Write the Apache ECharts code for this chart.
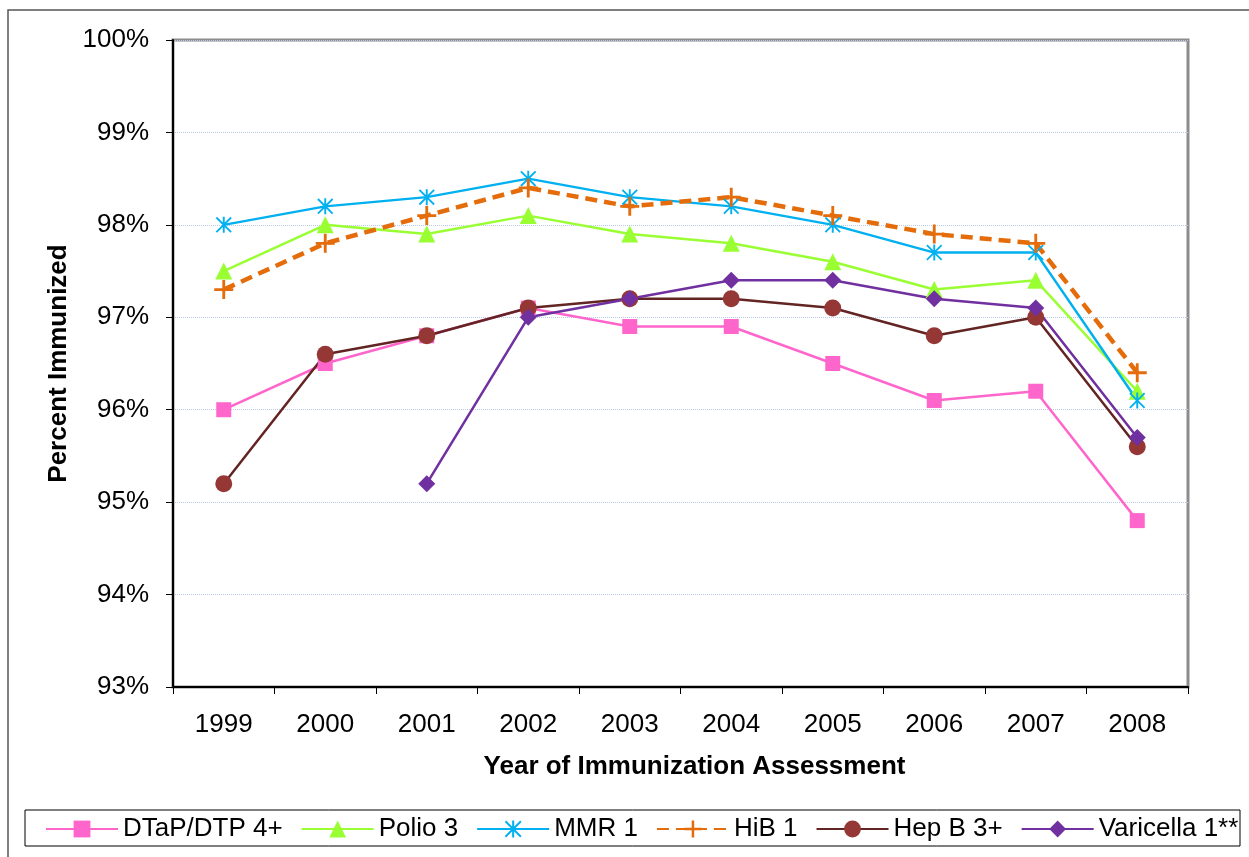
<!DOCTYPE html>
<html>
<head>
<meta charset="utf-8">
<script src="https://cdn.jsdelivr.net/npm/echarts@6/dist/echarts.min.js"></script>
<style>
  html, body { margin: 0; padding: 0; background: #fff; }
  #chart { width: 1249px; height: 857px; }
</style>
</head>
<body>
<div id="chart"></div>
<script>
  const years = ['1999', '2000', '2001', '2002', '2003', '2004', '2005', '2006', '2007', '2008'];
  const dtap = [96.0, 96.5, 96.8, 97.1, 96.9, 96.9, 96.5, 96.1, 96.2, 94.8];
  const polio = [97.5, 98.0, 97.9, 98.1, 97.9, 97.8, 97.6, 97.3, 97.4, 96.2];
  const mmr = [98.0, 98.2, 98.3, 98.5, 98.3, 98.2, 98.0, 97.7, 97.7, 96.1];
  const hib = [97.3, 97.8, 98.1, 98.4, 98.2, 98.3, 98.1, 97.9, 97.8, 96.4];
  const hepB = [95.2, 96.6, 96.8, 97.1, 97.2, 97.2, 97.1, 96.8, 97.0, 95.6];
  const varicella = [null, null, 95.2, 97.0, 97.2, 97.4, 97.4, 97.2, 97.1, 95.7];

  const font = '"Liberation Sans", Arial, sans-serif';

  // asterisk and plus markers as filled paths
  const starPath = 'path://M8.8,0 L11.2,0 L11.2,20 L8.8,20 Z M0,1.6 L1.6,0 L20,18.4 L18.4,20 Z M18.4,0 L20,1.6 L1.6,20 L0,18.4 Z';
  const plusPath = 'path://M8.5,0 L11.5,0 L11.5,8.5 L20,8.5 L20,11.5 L11.5,11.5 L11.5,20 L8.5,20 L8.5,11.5 L0,11.5 L0,8.5 L8.5,8.5 Z';

  function lineSeries(name, data, color, symbol, size, extra) {
    return Object.assign({
      name,
      type: 'line',
      data,
      symbol,
      symbolSize: size,
      connectNulls: false,
      lineStyle: { color, width: 2.5 },
      itemStyle: { color, borderWidth: 0 },
      emphasis: { disabled: true },
    }, extra || {});
  }

  const chart = echarts.init(document.getElementById('chart'));

  chart.setOption({
    animation: false,
    backgroundColor: '#fff',
    textStyle: { fontFamily: font },
    grid: {
      left: 173, right: 61, top: 40, bottom: 170,
      show: true, borderColor: '#8c8c8c', borderWidth: 3, backgroundColor: 'transparent',
    },
    legend: {
      left: 40,
      top: 811,
      itemWidth: 72,
      itemHeight: 21,
      itemGap: 18,
      textStyle: { fontFamily: font, fontSize: 26, color: '#000' },
      data: ['DTaP/DTP 4+', 'Polio 3', 'MMR 1', 'HiB 1', 'Hep B 3+', 'Varicella 1**'],
    },
    xAxis: {
      type: 'category',
      data: years,
      boundaryGap: true,
      name: 'Year of Immunization Assessment',
      nameLocation: 'middle',
      nameGap: 67,
      nameTextStyle: { fontFamily: font, fontSize: 26, fontWeight: 'bold', color: '#000', padding: [0, 0, 0, 28] },
      axisLine: { lineStyle: { color: '#000', width: 2 } },
      axisTick: { show: true, length: 7, lineStyle: { color: '#000', width: 1 } },
      axisLabel: { fontFamily: font, fontSize: 26, color: '#000', margin: 25 },
      splitLine: { show: false },
    },
    yAxis: {
      type: 'value',
      min: 93,
      max: 100,
      interval: 1,
      name: 'Percent Immunized',
      nameLocation: 'middle',
      nameGap: 101,
      nameTextStyle: { fontFamily: font, fontSize: 26, fontWeight: 'bold', color: '#000' },
      axisLine: { show: true, lineStyle: { color: '#000', width: 2 } },
      axisTick: { show: true, length: 7, lineStyle: { color: '#000', width: 1 } },
      axisLabel: { fontFamily: font, fontSize: 26, color: '#000', margin: 24, padding: [6, 0, 0, 0], formatter: '{value}%' },
      splitLine: { show: true, lineStyle: { color: '#b8cbea', width: 1, type: 'dotted' } },
    },
    graphic: [
      { type: 'rect', shape: { x: 8, y: 10, width: 1400, height: 1000 }, style: { fill: 'none', stroke: '#555', lineWidth: 1.5 }, silent: true, z: -1 },
      { type: 'rect', shape: { x: 25, y: 810, width: 1215, height: 36 }, style: { fill: 'none', stroke: '#000', lineWidth: 1 }, silent: true },
    ],
    series: [
      lineSeries('DTaP/DTP 4+', dtap, '#ff66cc', 'rect', 15),
      lineSeries('Polio 3', polio, '#99ff33', 'triangle', 17),
      lineSeries('MMR 1', mmr, '#00b0f0', starPath, 16),
      lineSeries('HiB 1', hib, '#e46c0a', plusPath, 19, {
        lineStyle: { color: '#e46c0a', width: 4.5, type: [12, 7] },
      }),
      lineSeries('Hep B 3+', hepB, '#632523', 'circle', 17, {
        itemStyle: { color: '#953735', borderWidth: 0 },
      }),
      lineSeries('Varicella 1**', varicella, '#7030a0', 'diamond', 17),
    ],
  });
</script>
</body>
</html>
